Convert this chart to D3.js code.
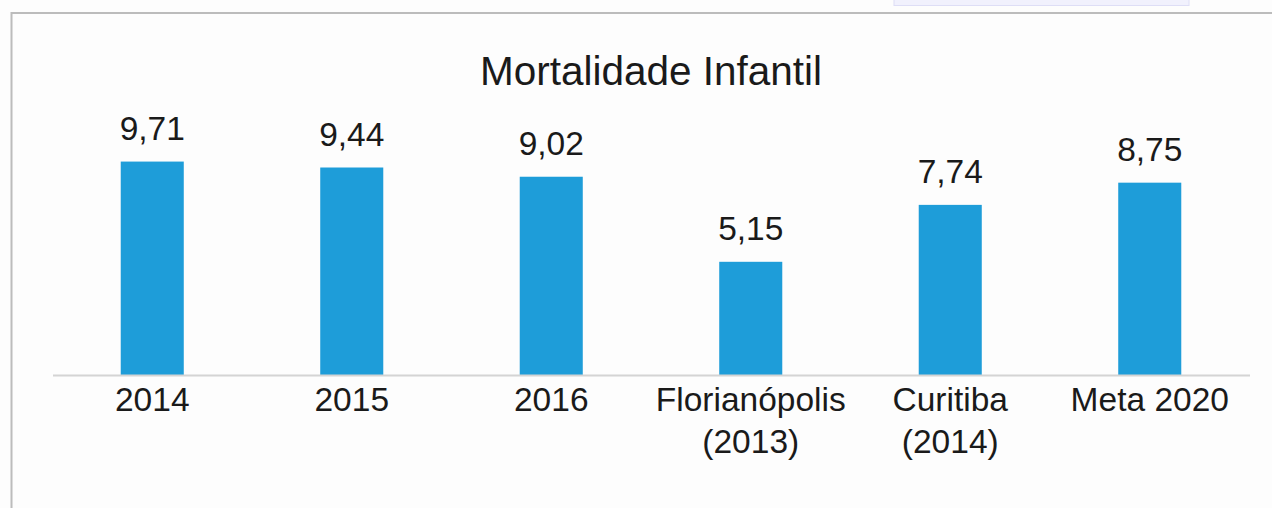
<!DOCTYPE html>
<html>
<head>
<meta charset="utf-8">
<script src="https://cdn.jsdelivr.net/npm/d3@7"></script>
<style>
  html, body { margin: 0; padding: 0; background: #fdfdfd; }
  svg { display: block; }
  text { font-family: "Liberation Sans", Arial, sans-serif; fill: #1a1a1a; }
</style>
</head>
<body>
<svg id="chart" width="1272" height="508"></svg>
<script>
const categories = ["2014", "2015", "2016", "Florianópolis\n(2013)", "Curitiba\n(2014)", "Meta 2020"];
const values = [9.71, 9.44, 9.02, 5.15, 7.74, 8.75];
const valueLabels = ["9,71", "9,44", "9,02", "5,15", "7,74", "8,75"];
const title = "Mortalidade Infantil";

const W = 1272, H = 508;
const svg = d3.select("#chart");

svg.append("rect").attr("x", 0).attr("y", 0).attr("width", W).attr("height", H).attr("fill", "#fdfdfd");

// decorative frame (chart container edges)
svg.append("rect").attr("x", 894).attr("y", -1).attr("width", 295).attr("height", 6.5)
  .attr("fill", "#f1f1fd").attr("stroke", "#dedef6").attr("stroke-width", 1);
svg.append("line").attr("x1", 11).attr("x2", W).attr("y1", 13).attr("y2", 13)
  .attr("stroke", "#bcbcbc").attr("stroke-width", 2);
svg.append("line").attr("x1", 11.5).attr("x2", 11.5).attr("y1", 12).attr("y2", H)
  .attr("stroke", "#bcbcbc").attr("stroke-width", 2);

const left = 52.5, right = 1249.5, baseline = 375;
const pad = 0.684;
const x = d3.scaleBand().domain(categories).range([left, right]).paddingInner(pad).paddingOuter(pad / 2);
const y = d3.scaleLinear().domain([0, 12]).range([baseline, baseline - 12 * 21.98]);

// title
svg.append("text").attr("x", (left + right) / 2).attr("y", 85)
  .attr("text-anchor", "middle").attr("font-size", 40.5).text(title);

// bars
svg.selectAll("rect.bar").data(values).enter().append("rect")
  .attr("class", "bar")
  .attr("x", (d, i) => x(categories[i]))
  .attr("y", d => y(d))
  .attr("width", x.bandwidth())
  .attr("height", d => y(0) - y(d))
  .attr("fill", "#1e9dd9");

// value labels
svg.selectAll("text.val").data(values).enter().append("text")
  .attr("class", "val")
  .attr("x", (d, i) => x(categories[i]) + x.bandwidth() / 2)
  .attr("y", d => y(d) - 22)
  .attr("text-anchor", "middle").attr("font-size", 33.5)
  .text((d, i) => valueLabels[i]);

// axis
const axis = d3.axisBottom(x).tickSize(0).tickSizeOuter(0).tickFormat("");
const ag = svg.append("g").attr("transform", `translate(0,${baseline})`).call(axis);
ag.select(".domain").attr("stroke", "#d4d4d4").attr("stroke-width", 2);

ag.selectAll(".tick").each(function(d) {
  const t = d3.select(this).append("text")
    .attr("text-anchor", "middle").attr("font-size", 33.5).attr("fill", "#1a1a1a");
  d.split("\n").forEach((line, i) => {
    t.append("tspan").attr("x", 0).attr("y", 35.5 + i * 42).text(line);
  });
});
</script>
</body>
</html>
